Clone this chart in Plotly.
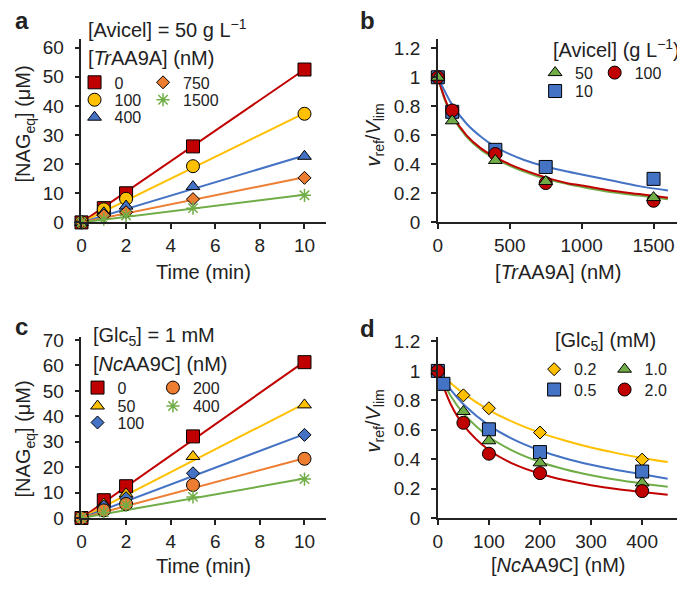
import plotly.graph_objects as go

# page body keeps an 8px margin, so the figure is drawn 8px in from the window corner
OFF = 8
W, H = 685 - OFF, 592 - OFF

# ---- data ----
time = [0, 1, 2, 5, 10]
time_fit = [0, 10]

a_0 = [0, 4.9, 10.0, 26.1, 52.5]
a_100 = [0, 4.5, 8.1, 19.3, 37.3]
a_400 = [0, 3.3, 5.6, 12.3, 22.7]
a_750 = [0, 2.4, 3.5, 8.0, 15.3]
a_1500 = [0, 1.1, 2.4, 4.9, 9.3]
a_fit_0 = [0, 52.5]
a_fit_100 = [0, 37.5]
a_fit_400 = [0, 23.0]
a_fit_750 = [0, 15.5]
a_fit_1500 = [0, 9.5]

conc_b = [0, 100, 400, 750, 1500]
b_50 = [1.0, 0.70, 0.427, 0.282, 0.171]
b_100 = [1.0, 0.771, 0.471, 0.271, 0.149]
b_10 = [1.0, 0.762, 0.50, 0.382, 0.30]
conc_b_fit = [0, 50, 100, 200, 300, 400, 500, 600, 750, 900, 1000, 1200, 1400, 1600]
b_fit_10 = [1.0, 0.90, 0.81, 0.68, 0.59, 0.52, 0.47, 0.43, 0.385, 0.35, 0.33, 0.29, 0.25, 0.22]
b_fit_100 = [1.0, 0.85, 0.74, 0.60, 0.51, 0.45, 0.40, 0.36, 0.31, 0.27, 0.255, 0.22, 0.195, 0.17]
b_fit_50 = [1.0, 0.84, 0.73, 0.59, 0.50, 0.44, 0.39, 0.35, 0.30, 0.265, 0.245, 0.21, 0.185, 0.16]

c_0 = [0, 7.0, 12.5, 32.1, 61.3]
c_50 = [0, 5.5, 9.5, 24.2, 44.5]
c_100 = [0, 4.5, 7.8, 17.6, 32.7]
c_200 = [0, 3.0, 5.5, 13.0, 23.3]
c_400 = [0, 2.2, 5.0, 8.3, 15.3]
c_fit_0 = [0, 61.5]
c_fit_50 = [0, 45.0]
c_fit_100 = [0, 33.0]
c_fit_200 = [0, 23.5]
c_fit_400 = [0, 15.5]

conc_d = [0, 50, 100, 200, 400]
conc_d_05 = [0, 11, 100, 200, 400]
d_02 = [1.0, 0.834, 0.746, 0.581, 0.397]
d_05 = [1.0, 0.912, 0.603, 0.448, 0.316]
d_10 = [1.0, 0.724, 0.525, 0.375, 0.238]
d_20 = [1.0, 0.647, 0.437, 0.305, 0.183]
conc_d_fit = [0, 25, 50, 100, 150, 200, 250, 300, 350, 400, 450]
d_fit_02 = [1.0, 0.917, 0.847, 0.734, 0.648, 0.580, 0.525, 0.479, 0.441, 0.408, 0.380]
d_fit_05 = [1.0, 0.872, 0.773, 0.630, 0.531, 0.459, 0.405, 0.362, 0.327, 0.298, 0.267]
d_fit_10 = [1.0, 0.831, 0.711, 0.552, 0.451, 0.381, 0.330, 0.291, 0.260, 0.235, 0.213]
d_fit_20 = [1.0, 0.775, 0.632, 0.462, 0.364, 0.301, 0.256, 0.223, 0.197, 0.177, 0.158]

RED, YEL, BLU, ORA, GRN = '#C00000', '#FFC000', '#4472C4', '#ED7D31', '#70AD47'
FONT = 'Liberation Sans, Arial, sans-serif'
INK = '#222222'


def px(x):
    return (x - OFF) / W


def py(y):
    return 1 - (y - OFF) / H


fig = go.Figure()
legends = {}


def leg(mx, cy):
    # one legend box per entry, marker centred near (mx, cy) in window pixels
    return dict(orientation='v', x=px(mx - 24), y=py(cy - 17), xanchor='left', yanchor='top',
                bgcolor='rgba(0,0,0,0)', borderwidth=0, tracegroupgap=0,
                font=dict(family=FONT, size=16, color=INK))


def line(x, y, color, ax, shape='linear'):
    fig.add_trace(go.Scatter(x=x, y=y, mode='lines', line=dict(color=color, width=2, shape=shape),
                             xaxis=ax[0], yaxis=ax[1], showlegend=False, hoverinfo='skip'))


def pts(x, y, color, symbol, size, name, ax, pos):
    if symbol == 'asterisk-open':
        mk = dict(symbol=symbol, size=size, color=color, line=dict(color=color, width=1.5))
    else:
        mk = dict(symbol=symbol, size=size, color=color, line=dict(color='black', width=1))
    key = 'legend' if not legends else 'legend%d' % (len(legends) + 1)
    legends[key] = leg(*pos)
    fig.add_trace(go.Scatter(x=x, y=y, mode='markers', marker=mk, name=name, cliponaxis=False,
                             xaxis=ax[0], yaxis=ax[1], legend=key))


A, B, C, D = ('x', 'y'), ('x2', 'y2'), ('x3', 'y3'), ('x4', 'y4')

# panel a
for yv, col in [(a_fit_0, RED), (a_fit_100, YEL), (a_fit_400, BLU), (a_fit_750, ORA), (a_fit_1500, GRN)]:
    line(time_fit, yv, col, A)
pts(time, a_0, RED, 'square', 13, '0', A, (94, 77))
pts(time, a_100, YEL, 'circle', 13, '100', A, (94, 95))
pts(time, a_400, BLU, 'triangle-up', 12, '400', A, (94, 113))
pts(time, a_750, ORA, 'diamond', 10, '750', A, (163, 77))
pts(time, a_1500, GRN, 'asterisk-open', 11, '1500', A, (163, 95))

# panel b
line(conc_b_fit, b_fit_50, GRN, B, 'spline')
line(conc_b_fit, b_fit_100, RED, B, 'spline')
line(conc_b_fit, b_fit_10, BLU, B, 'spline')
pts(conc_b, b_10, BLU, 'square', 13, '10', B, (558, 86))
pts(conc_b, b_100, RED, 'circle', 13, '100', B, (618, 67))
pts(conc_b, b_50, GRN, 'triangle-up', 12, '50', B, (558, 67))

# panel c
for yv, col in [(c_fit_0, RED), (c_fit_50, YEL), (c_fit_100, BLU), (c_fit_200, ORA), (c_fit_400, GRN)]:
    line(time_fit, yv, col, C)
pts(time, c_0, RED, 'square', 13, '0', C, (97, 392))
pts(time, c_50, YEL, 'triangle-up', 12, '50', C, (97, 411))
pts(time, c_100, BLU, 'diamond', 10, '100', C, (97, 428))
pts(time, c_200, ORA, 'circle', 13, '200', C, (173, 392))
pts(time, c_400, GRN, 'asterisk-open', 11, '400', C, (173, 411))

# panel d
line(conc_d_fit, d_fit_02, YEL, D, 'spline')
line(conc_d_fit, d_fit_05, BLU, D, 'spline')
line(conc_d_fit, d_fit_10, GRN, D, 'spline')
line(conc_d_fit, d_fit_20, RED, D, 'spline')
pts(conc_d, d_02, YEL, 'diamond', 10, '0.2', D, (557, 373))
pts(conc_d_05, d_05, BLU, 'square', 13, '0.5', D, (557, 394))
pts(conc_d, d_10, GRN, 'triangle-up', 12, '1.0', D, (628, 373))
pts(conc_d, d_20, RED, 'circle', 13, '2.0', D, (628, 394))

axis_common = dict(showline=True, linecolor=INK, linewidth=1.5, ticks='outside', ticklen=5,
                   tickwidth=1.5, tickcolor=INK, showgrid=False, zeroline=False,
                   tickfont=dict(family=FONT, size=19, color=INK))
yext = dict(ticklabelstandoff=7)
vals_v = [0, 0.2, 0.4, 0.6, 0.8, 1.0, 1.2]
text_v = ['0', '0.2', '0.4', '0.6', '0.8', '1', '1.2']

left_dom = [px(77), px(323)]
right_dom = [px(436), px(683)]
top_dom = [py(222), py(33)]
bot_dom = [py(527), py(340)]

fig.update_layout(
    xaxis=dict(axis_common, domain=left_dom, anchor='y', range=[0, 10.95], tickvals=[0, 2, 4, 6, 8, 10]),
    yaxis=dict(axis_common, **yext, domain=top_dom, anchor='x', range=[0, 62.9],
               tickvals=list(range(0, 61, 10))),
    xaxis2=dict(axis_common, domain=right_dom, anchor='y2', range=[0, 1705], tickvals=[0, 500, 1000, 1500]),
    yaxis2=dict(axis_common, **yext, domain=top_dom, anchor='x2', range=[0, 1.262],
                tickvals=vals_v, ticktext=text_v),
    xaxis3=dict(axis_common, domain=left_dom, anchor='y3', range=[0, 10.95], tickvals=[0, 2, 4, 6, 8, 10]),
    yaxis3=dict(axis_common, **yext, domain=bot_dom, anchor='x3', range=[0, 71.3],
                tickvals=list(range(0, 71, 10))),
    xaxis4=dict(axis_common, domain=right_dom, anchor='y4', range=[0, 480], tickvals=[0, 100, 200, 300, 400]),
    yaxis4=dict(axis_common, **yext, domain=bot_dom, anchor='x4', range=[0, 1.232],
                tickvals=vals_v, ticktext=text_v),
)
fig.update_layout(**legends)

ann = []


def text(t, x, y, size=20, xanchor='left', angle=0, bold=False):
    if bold:
        t = '<b>' + t + '</b>'
    ann.append(dict(text=t, x=px(x), y=py(y), xref='paper', yref='paper', xanchor=xanchor,
                    yanchor='middle', showarrow=False, textangle=angle,
                    font=dict(family=FONT, size=size, color=INK)))


text('a', 8, 14, 24, bold=True)
text('b', 356, 14, 24, bold=True)
text('c', 8, 329, 24, bold=True)
text('d', 356, 331, 24, bold=True)

text('[Avicel] = 50 g L<sup>−1</sup>', 82, 22)
text('[<i>Tr</i>AA9A] (nM)', 82, 52)
text('[Avicel] (g L<sup>−1</sup>)', 550, 43)
text('[Glc<sub>5</sub>] = 1 mM', 87, 340)
text('[<i>Nc</i>AA9C] (nM)', 87, 368)
text('[Glc<sub>5</sub>] (mM)', 552, 345)

text('Time (min)', 200, 273, xanchor='center')
text('[<i>Tr</i>AA9A] (nM)', 557, 273, xanchor='center')
text('Time (min)', 200, 577, xanchor='center')
text('[<i>Nc</i>AA9C] (nM)', 557, 575, xanchor='center')
text('[NAG<sub>eq</sub>] (μM)', 20, 120, xanchor='center', angle=-90)
text('[NAG<sub>eq</sub>] (μM)', 20, 445, xanchor='center', angle=-90)
text('<i>v</i><sub>ref</sub>/<i>V</i><sub>lim</sub>', 372, 132, xanchor='center', angle=-90)
text('<i>v</i><sub>ref</sub>/<i>V</i><sub>lim</sub>', 372, 427, xanchor='center', angle=-90)

fig.update_layout(
    width=W, height=H, margin=dict(l=0, r=0, t=0, b=0),
    paper_bgcolor='white', plot_bgcolor='white',
    font=dict(family=FONT, color=INK),
    annotations=ann,
)

fig.write_html("out.html")
